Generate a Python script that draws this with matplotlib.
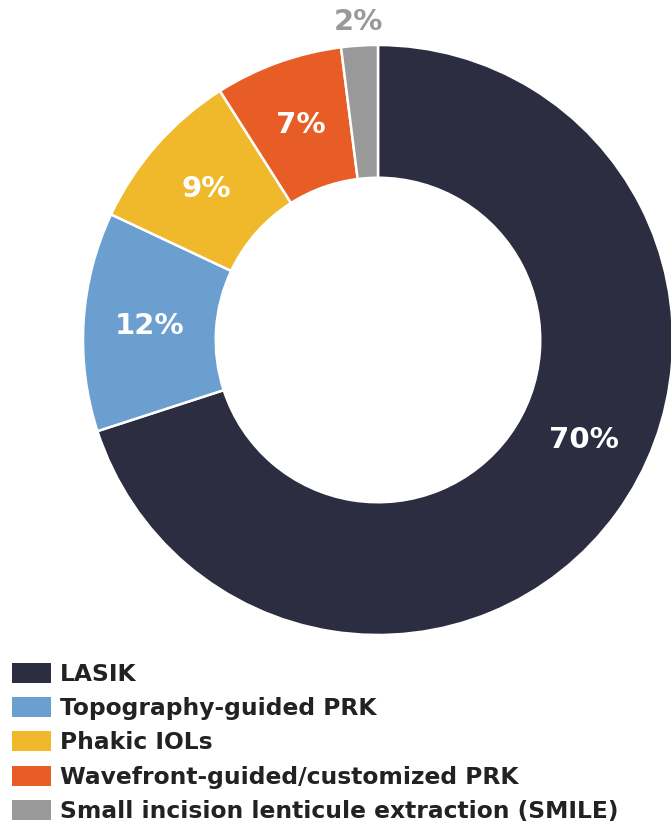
import numpy as np
import matplotlib.pyplot as plt

# refractive procedure shares
labels = ['LASIK', 'Topography-guided PRK', 'Phakic IOLs',
          'Wavefront-guided/customized PRK', 'Small incision lenticule extraction (SMILE)']
values = [70, 12, 9, 7, 2]
colors = ['#2d2d42', '#6a9fcf', '#f0b92b', '#e85d25', '#999999']
pct_text = ['70%', '12%', '9%', '7%', '2%']

fig = plt.figure(figsize=(6.71, 8.22), dpi=100)

# donut axes, centred on pie
cx, cy, r = 378, 340, 295
W, H = 671, 822
ax = fig.add_axes([(cx - r) / W, (H - cy - r) / H, 2 * r / W, 2 * r / H])
wedges, _ = ax.pie(values, colors=colors, startangle=90, counterclock=False,
                   radius=1, wedgeprops=dict(width=0.45, edgecolor='white', linewidth=1.8))
ax.set_xlim(-1, 1)
ax.set_ylim(-1, 1)
ax.set_aspect('equal')
ax.axis('off')

# labels at the middle of each ring segment
for i, w in enumerate(wedges):
    ang = (w.theta1 + w.theta2) / 2
    rad = 0.775
    col = 'white'
    if i == 0:
        ang += 10
    if i == 4:
        rad = 1.08
        col = '#999999'
    x = rad * np.cos(np.radians(ang))
    y = rad * np.sin(np.radians(ang))
    ax.text(x, y, pct_text[i], ha='center', va='center', color=col,
            fontsize=21, fontweight='heavy', clip_on=False)

leg = fig.legend(wedges, labels, loc='upper left', bbox_to_anchor=(12 / W, 1 - 663 / H),
                 frameon=False, fontsize=16.8, handlelength=1.67, handleheight=0.94,
                 handletextpad=0.38, labelspacing=0.48, borderaxespad=0, borderpad=0)
for t in leg.get_texts():
    t.set_fontweight('bold')
    t.set_color('#222222')
for h in leg.legend_handles:
    h.set_edgecolor('none')

fig.savefig('out.png', dpi=100)
